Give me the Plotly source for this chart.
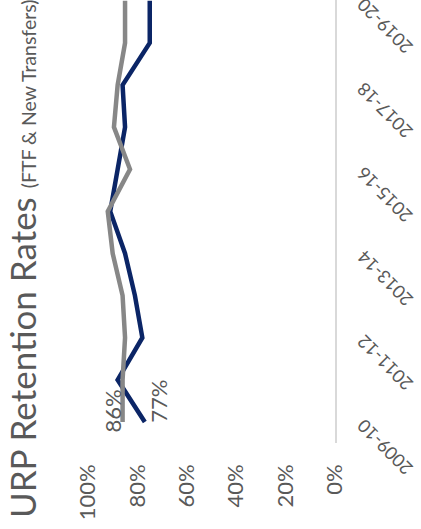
import plotly.graph_objects as go

# Academic years on the category axis
years = ["2009-10", "2010-11", "2011-12", "2012-13", "2013-14", "2014-15",
         "2015-16", "2016-17", "2017-18", "2018-19", "2019-20"]

# Retention rates (fractions)
ftf_rates = [0.77, 0.88, 0.78, 0.81, 0.85, 0.91, 0.88, 0.85, 0.86, 0.75, 0.75]
transfer_rates = [0.86, 0.86, 0.85, 0.86, 0.90, 0.92, 0.83, 0.895, 0.88, 0.85, 0.85]

value_ticks = [1.0, 0.8, 0.6, 0.4, 0.2, 0.0]
labeled_years = years[::2]

NAVY = "#0b2566"
GRAY = "#878787"
TEXT = "#595959"
FONT = "Lato"

fig = go.Figure()
fig.add_trace(go.Scatter(x=ftf_rates, y=years, mode="lines",
                         line=dict(color=NAVY, width=4.5), cliponaxis=True))
fig.add_trace(go.Scatter(x=transfer_rates, y=years, mode="lines",
                         line=dict(color=GRAY, width=4.5), cliponaxis=True))

annotations = []
# first-year value labels
annotations.append(dict(x=transfer_rates[0], y=years[0], xref="x", yref="y",
                        text=f"{transfer_rates[0]:.0%}", showarrow=False, textangle=-90,
                        xshift=-10, yshift=11,
                        font=dict(family=FONT, size=22, color=TEXT)))
annotations.append(dict(x=ftf_rates[0], y=years[0], xref="x", yref="y",
                        text=f"{ftf_rates[0]:.0%}", showarrow=False, textangle=-90,
                        xshift=14, yshift=21,
                        font=dict(family=FONT, size=22, color=TEXT)))
# category labels, slanted
for yr in labeled_years:
    annotations.append(dict(x=1, y=yr, xref="paper", yref="y", text=yr,
                            showarrow=False, textangle=-135,
                            xanchor="left", yanchor="top", xshift=15, yshift=9,
                            font=dict(family=FONT, size=18, color=TEXT)))
# title
annotations.append(dict(x=-0.36, y=-0.175, xref="paper", yref="paper",
                        xanchor="left", yanchor="bottom", textangle=-90, showarrow=False,
                        text="URP Retention Rates <span style='font-size:19.5px'>(FTF &amp; New Transfers)</span>",
                        font=dict(family=FONT, size=35, color=TEXT)))

fig.update_layout(
    width=421, height=529,
    margin=dict(l=88, r=86, t=0, b=86),
    paper_bgcolor="white", plot_bgcolor="white",
    showlegend=False,
    annotations=annotations,
    xaxis=dict(range=[1, 0], tickvals=value_ticks, tickformat=".0%",
               tickangle=-90, showgrid=False, zeroline=False, showline=False,
               ticks="", ticklabelstandoff=16,
               tickfont=dict(family=FONT, size=22, color=TEXT)),
    yaxis=dict(type="category", categoryorder="array", categoryarray=years,
               range=[-0.5, 10.02], side="right", showgrid=False, zeroline=False,
               showline=True, linecolor="#d9d9d9", linewidth=1.5,
               showticklabels=False, ticks=""),
)

fig.write_html("out.html")
